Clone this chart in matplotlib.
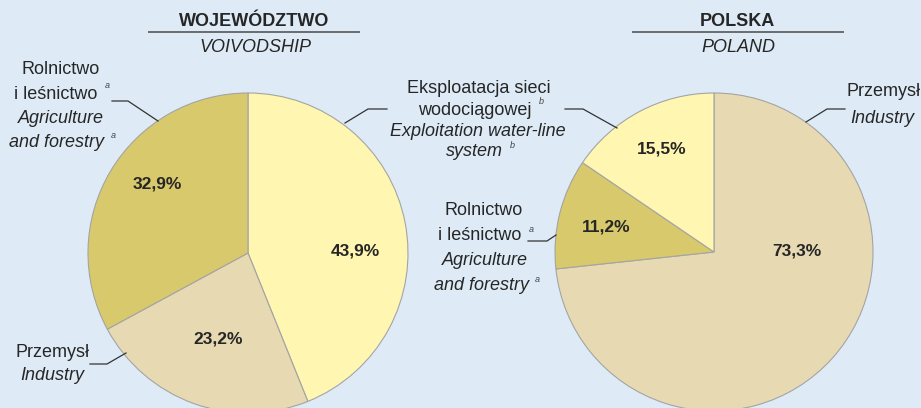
import matplotlib
import matplotlib.pyplot as plt

matplotlib.use('Agg')

# shares (%) in the order: water-line, industry, agriculture
categories = ["Eksploatacja sieci wodociągowej", "Przemysł", "Rolnictwo i leśnictwo"]
woj_values = [43.9, 23.2, 32.9]
# Poland pie goes: industry, agriculture, water-line
pl_categories = ["Przemysł", "Rolnictwo i leśnictwo", "Eksploatacja sieci wodociągowej"]
pl_values = [73.3, 11.2, 15.5]

colors = {
    "Eksploatacja sieci wodociągowej": "#fff6b1",
    "Przemysł": "#e7d9b2",
    "Rolnictwo i leśnictwo": "#d8c96c",
}

BG = "#deebf6"
TXT = "#262626"
FONT = "Liberation Sans"

plt.rcParams['font.family'] = FONT

fig = plt.figure(figsize=(9.21, 4.08), dpi=100)
fig.patch.set_facecolor(BG)
ax = fig.add_axes([0, 0, 1, 1])
ax.set_facecolor(BG)

# y axis points down so pixel-like layout coords can be used
wedge_style = dict(edgecolor="#a4a4a4", linewidth=0.8)
ax.pie(woj_values, colors=[colors[c] for c in categories], center=(248, 253),
       radius=160, startangle=-90, counterclock=True, frame=True,
       wedgeprops=wedge_style)
ax.pie(pl_values, colors=[colors[c] for c in pl_categories], center=(714, 252),
       radius=159, startangle=-90, counterclock=True, frame=True,
       wedgeprops=wedge_style)

ax.set_xlim(0, 921)
ax.set_ylim(408, 0)
ax.set_aspect('auto')
ax.axis('off')


def pct(v):
    return f"{v:.1f}%".replace('.', ',')


# percent labels
woj_pos = [(355, 251), (218, 339), (157, 184)]
pl_pos = [(797, 251), (606, 227), (662, 149)]
for v, (x, y) in zip(woj_values, woj_pos):
    ax.text(x, y, pct(v), ha='center', va='center', fontsize=12.5,
            fontweight='bold', color=TXT)
for v, (x, y) in zip(pl_values, pl_pos):
    ax.text(x, y, pct(v), ha='center', va='center', fontsize=12.5,
            fontweight='bold', color=TXT)

# titles
for cx, pl, en, x0, x1 in [(254, "WOJEWÓDZTWO", "VOIVODSHIP", 148, 360),
                           (737, "POLSKA", "POLAND", 632, 844)]:
    ax.text(cx, 26, pl, ha='center', va='baseline', fontsize=13,
            fontweight='bold', color=TXT)
    ax.plot([x0, x1], [32, 32], color="#6b6b6b", lw=1.4, solid_capstyle='butt')
    ax.text(cx + 1, 52, en, ha='center', va='baseline', fontsize=13,
            style='italic', color=TXT)


def label(x, y, s, italic=False):
    ax.text(x, y, s, ha='center', va='baseline', fontsize=13,
            style='italic' if italic else 'normal', color=TXT)


def sup(x, y, s):
    ax.text(x, y, s, ha='center', va='center', fontsize=6.5,
            style='italic', color="#444444")


def leader(pts):
    xs, ys = zip(*pts)
    ax.plot(xs, ys, color="#333333", lw=0.9)


# left: agriculture
label(61, 74, "Rolnictwo")
label(56, 99, "i leśnictwo")
sup(107, 85, "a")
label(61, 123, "Agriculture", True)
label(56, 147, "and forestry", True)
sup(113, 135, "a")
leader([(112, 101), (128, 101), (158, 121)])

# middle: water-line (shared by both pies)
label(479, 93, "Eksploatacja sieci")
label(475, 115, "wodociągowej")
sup(541, 102, "b")
label(478, 136, "Exploitation water-line", True)
label(474, 156, "system", True)
sup(512, 145, "b")
leader([(387, 109), (368, 109), (345, 123)])
leader([(565, 109), (583, 109), (617, 128)])

# middle: agriculture for Poland
label(484, 215, "Rolnictwo")
label(480, 240, "i leśnictwo")
sup(531, 229, "a")
label(485, 265, "Agriculture", True)
label(481, 290, "and forestry", True)
sup(537, 279, "a")
leader([(528, 241), (547, 241), (556, 235)])

# left: industry
label(52, 357, "Przemysł")
label(52, 380, "Industry", True)
leader([(90, 364), (107, 364), (126, 353)])

# right: industry
label(883, 96, "Przemysł")
label(882, 123, "Industry", True)
leader([(845, 109), (827, 109), (806, 122)])

fig.savefig("out.png", dpi=100, facecolor=BG)
